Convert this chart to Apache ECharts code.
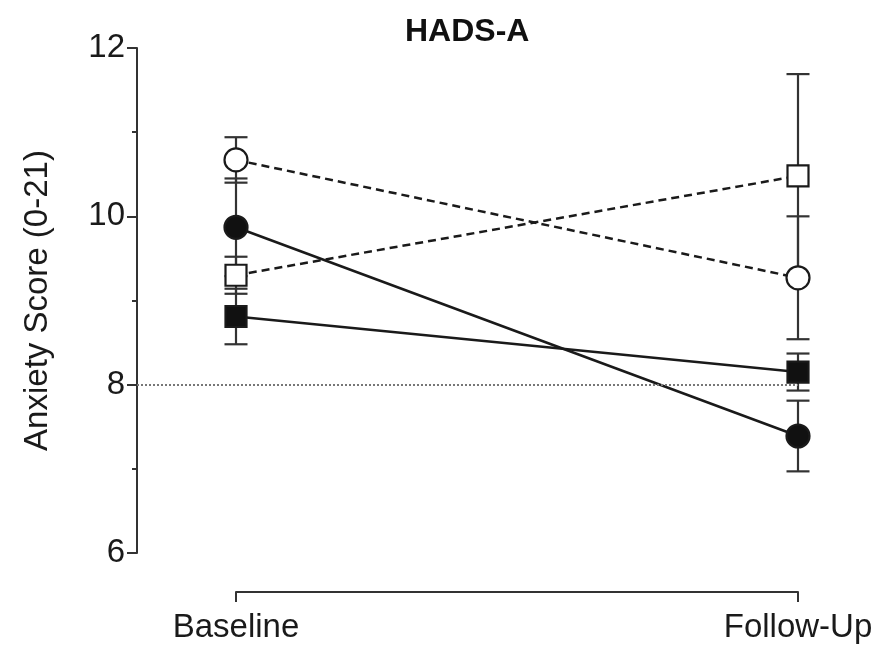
<!DOCTYPE html>
<html>
<head>
<meta charset="utf-8">
<script src="https://cdn.jsdelivr.net/npm/echarts@6/dist/echarts.min.js"></script>
<style>
html,body{margin:0;padding:0;background:#fff;}
#chart{width:883px;height:648px;}
</style>
</head>
<body>
<div id="chart"></div>
<script>
var categories = ['Baseline', 'Follow-Up'];
var yTicks = [6, 8, 10, 12];
var refLine = 8;

var filledCircleMean = [9.87, 7.39];
var filledCircleErr  = [0.58, 0.42];
var openCircleMean   = [10.67, 9.27];
var openCircleErr    = [0.27, 0.73];
var openSquareMean   = [9.30, 10.48];
var openSquareErr    = [0.22, 1.21];
var filledSquareMean = [8.81, 8.15];
var filledSquareErr  = [0.33, 0.22];

var FONT = 'Liberation Sans, Arial, sans-serif';
var INK = '#1a1a1a';

function pts(mean){ return mean.map(function(v,i){ return [i, v]; }); }
function errData(mean, err){ return mean.map(function(v,i){ return [i, v - err[i], v + err[i]]; }); }

function errSeries(mean, err){
  return {
    type: 'custom', xAxisIndex: 0, yAxisIndex: 0, z: 1, silent: true, clip: false,
    data: errData(mean, err),
    renderItem: function(params, api){
      var x = api.value(0);
      var lo = api.coord([x, api.value(1)]);
      var hi = api.coord([x, api.value(2)]);
      var w = 11.5;
      var st = { stroke: '#333', lineWidth: 2.2 };
      return { type: 'group', children: [
        { type: 'line', shape: { x1: lo[0], y1: lo[1], x2: hi[0], y2: hi[1] }, style: st },
        { type: 'line', shape: { x1: lo[0]-w, y1: lo[1], x2: lo[0]+w, y2: lo[1] }, style: st },
        { type: 'line', shape: { x1: hi[0]-w, y1: hi[1], x2: hi[0]+w, y2: hi[1] }, style: st }
      ]};
    }
  };
}

function lineSeries(name, mean, symbol, filled, dashed, size){
  return {
    name: name, type: 'line', xAxisIndex: 0, yAxisIndex: 0, z: 3, clip: false,
    data: pts(mean), symbol: symbol, symbolSize: size, showSymbol: true,
    lineStyle: { color: INK, width: 2.5, type: dashed ? [8, 5] : 'solid' },
    itemStyle: { color: filled ? '#111' : '#fff', borderColor: INK, borderWidth: 2.2 },
    emphasis: { disabled: true }, animation: false
  };
}

var series = [
  errSeries(filledCircleMean, filledCircleErr),
  errSeries(openCircleMean, openCircleErr),
  errSeries(openSquareMean, openSquareErr),
  errSeries(filledSquareMean, filledSquareErr),
  lineSeries('Open circle', openCircleMean, 'circle', false, true, 23),
  lineSeries('Open square', openSquareMean, 'rect', false, true, 21),
  lineSeries('Filled square', filledSquareMean, 'rect', true, false, 21),
  lineSeries('Filled circle', filledCircleMean, 'circle', true, false, 23)
];
series[4].markLine = {
  silent: true, symbol: 'none', label: { show: false },
  lineStyle: { color: '#777', type: [2, 2], width: 2 },
  data: [{ yAxis: refLine }]
};
series.push({
  type: 'line', xAxisIndex: 1, yAxisIndex: 1, data: [null, null], symbol: 'none', silent: true
});

var chart = echarts.init(document.getElementById('chart'));
chart.setOption({
  animation: false,
  backgroundColor: '#fff',
  title: {
    text: 'HADS-A', left: 400, top: 11,
    textStyle: { fontFamily: FONT, fontSize: 32, fontWeight: 'bold', color: '#111' }
  },
  grid: [
    { left: 137, right: 85, top: 48, bottom: 95, containLabel: false },
    { left: 236, right: 85, top: 48, bottom: 56, containLabel: false }
  ],
  xAxis: [
    { type: 'value', gridIndex: 0, min: -99/562, max: 1, show: false },
    { type: 'category', gridIndex: 1, data: categories, boundaryGap: false,
      axisLine: { show: true, lineStyle: { color: '#333', width: 2 } },
      axisTick: { show: true, length: 10, inside: false, lineStyle: { color: '#333', width: 2 } },
      axisLabel: { margin: 19, fontFamily: FONT, fontSize: 33, color: INK },
      splitLine: { show: false } }
  ],
  yAxis: [
    { type: 'value', gridIndex: 0, min: yTicks[0], max: yTicks[yTicks.length-1], interval: 2,
      name: 'Anxiety Score (0-21)', nameLocation: 'middle', nameGap: 83,
      nameTextStyle: { fontFamily: FONT, fontSize: 33, color: INK },
      axisLine: { show: true, onZero: false, lineStyle: { color: '#333', width: 2 } },
      axisTick: { show: true, length: 10, lineStyle: { color: '#333', width: 2 } },
      minorTick: { show: true, splitNumber: 2, length: 5, lineStyle: { color: '#333', width: 2 } },
      axisLabel: { margin: 12, fontFamily: FONT, fontSize: 33, color: INK },
      splitLine: { show: false } },
    { type: 'value', gridIndex: 1, show: false }
  ],
  series: series
});
</script>
</body>
</html>
